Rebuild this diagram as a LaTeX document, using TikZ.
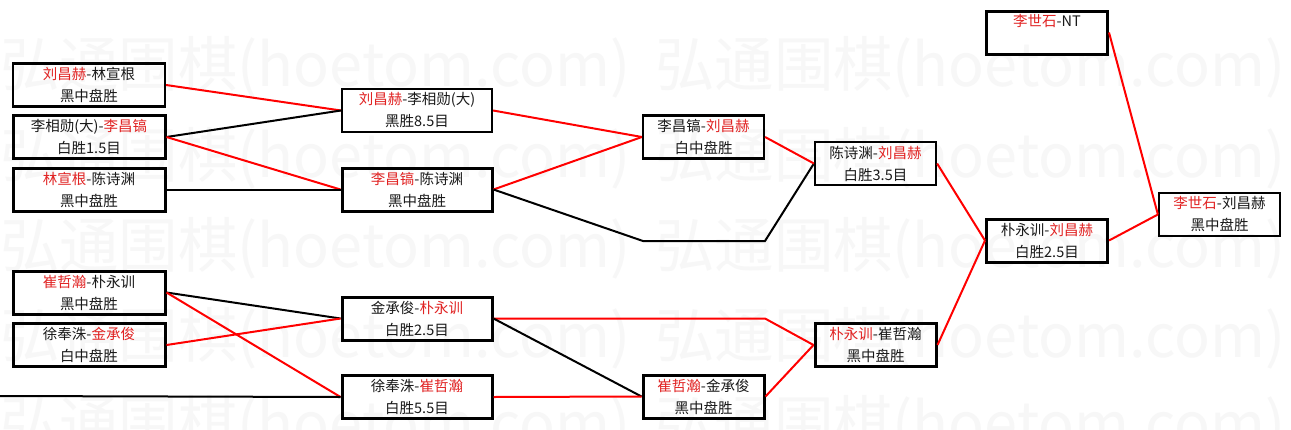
\documentclass[tikz,border=0pt]{standalone}
\usepackage{fontspec}
\usepackage{graphicx}
\setmainfont{Noto Sans CJK SC}
\definecolor{wonred}{RGB}{225,35,35}
\definecolor{txt}{RGB}{25,25,25}
\definecolor{wmark}{RGB}{247,247,247}
\newcommand{\R}[1]{\textcolor{wonred}{#1}}
\newcommand{\wmtext}{\resizebox{630pt}{50pt}{弘通围棋(hoetom.com)}}
\begin{document}
\begin{tikzpicture}[x=1pt,y=-1pt,
  game/.style={draw=black, rectangle, inner sep=0pt, align=center,
    text=txt, font={\fontsize{14.5}{22}\selectfont}},
  thin/.style={game, line width=2.2pt},
  thick/.style={game, line width=3pt},
  r1/.style={minimum width=152pt, minimum height=43pt},
  r2/.style={minimum width=150pt, minimum height=43pt},
  rs/.style={minimum width=121pt, minimum height=43pt},
  win/.style={draw=red, line width=2pt},
  lose/.style={draw=black, line width=2pt},
  wm/.style={text=wmark, inner sep=0pt, anchor=west}
]
\useasboundingbox (0,0) rectangle (1291,429);
\fill[white] (0,0) rectangle (1291,429);

% watermark
\foreach \yy [count=\i] in {67,158,248,338,426}{
  \node[wm] (wmL\i) at (0,\yy) {\wmtext};
  \node[wm] (wmR\i) at (655,\yy) {\wmtext};
}

% round 1
\node[thin,r1]  (A1) at (89,85)    {\R{刘昌赫}-林宣根\\黑中盘胜};
\node[thick,r1] (A2) at (89,137)   {李相勋(大)-\R{李昌镐}\\白胜1.5目};
\node[thick,r1] (A3) at (89,189.5) {\R{林宣根}-陈诗渊\\黑中盘胜};
\node[thick,r1] (A4) at (89,292.5) {\R{崔哲瀚}-朴永训\\黑中盘胜};
\node[thick,r1] (A5) at (89,345)   {徐奉洙-\R{金承俊}\\白中盘胜};
% round 2
\node[thin,r2]  (B1) at (417,110.5) {\R{刘昌赫}-李相勋(大)\\黑胜8.5目};
\node[thick,r2] (B2) at (417,189.5) {\R{李昌镐}-陈诗渊\\黑中盘胜};
\node[thick,r2] (B3) at (417,318.5) {金承俊-\R{朴永训}\\白胜2.5目};
\node[thick,r2] (B4) at (417,397)   {徐奉洙-\R{崔哲瀚}\\白胜5.5目};
% round 3
\node[thin,rs]  (C1) at (703.5,137)   {李昌镐-\R{刘昌赫}\\白中盘胜};
\node[thick,rs] (C2) at (703.5,396.5) {\R{崔哲瀚}-金承俊\\黑中盘胜};
% round 4
\node[thin,rs]  (D1) at (875.5,163.5) {陈诗渊-\R{刘昌赫}\\白胜3.5目};
\node[thick,rs] (D2) at (875.5,345)   {\R{朴永训}-崔哲瀚\\黑中盘胜};
% round 5
\node[thick,rs] (E1) at (1047,240.5)  {朴永训-\R{刘昌赫}\\白胜2.5目};
\node[thick,rs] (G)  at (1047,32.5)   {\R{李世石}-NT\\\phantom{黑中盘胜}};
% final
\node[thin,rs]  (F)  at (1219.5,214.5) {\R{李世石}-刘昌赫\\黑中盘胜};

% free ends and bends
\coordinate (s)  at (0,396);
\coordinate (k1) at (643,241);
\coordinate (k2) at (765,241);
\coordinate (k3) at (765,318.5);

% connectors
\draw[win]  (A1.east) -- (B1.west);
\draw[lose] (A2.east) -- (B1.west);
\draw[win]  (A2.east) -- (B2.west);
\draw[lose] (A3.east) -- (B2.west);
\draw[lose] (A4.east) -- (B3.west);
\draw[win]  (A4.east) -- (B4.west);
\draw[win]  (A5.east) -- (B3.west);
\draw[lose] (s) -- (B4.west);
\draw[win]  (B1.east) -- (C1.west);
\draw[win]  (B2.east) -- (C1.west);
\draw[lose] (B2.east) -- (k1) -- (k2) -- (D1.west);
\draw[win]  (B3.east) -- (k3) -- (D2.west);
\draw[lose] (B3.east) -- (C2.west);
\draw[win]  (B4.east) -- (C2.west);
\draw[win]  (C1.east) -- (D1.west);
\draw[win]  (C2.east) -- (D2.west);
\draw[win]  (D1.east) -- (E1.west);
\draw[win]  (D2.east) -- (E1.west);
\draw[win]  (G.east) -- (F.west);
\draw[win]  (E1.east) -- (F.west);
\end{tikzpicture}
\end{document}
